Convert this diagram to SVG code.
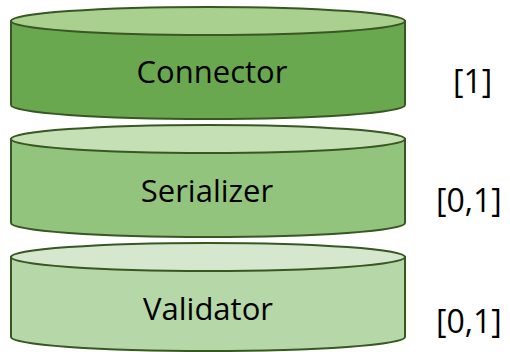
<svg xmlns="http://www.w3.org/2000/svg" width="510" height="352" viewBox="0 0 510 352">
  <style>
    .edge { stroke: #385723; stroke-width: 2; }
    .name { font-family: "Open Sans", "Liberation Sans", sans-serif; font-size: 31px; fill: #000; text-anchor: middle; }
    .mult { font-family: "Open Sans", "Liberation Sans", sans-serif; font-size: 32px; fill: #000; }
  </style>
  <rect width="510" height="352" fill="#ffffff"/>

  <!-- stacked cylinders, top to bottom -->
  <g id="connector">
    <path class="edge" d="M11,21 L11,105 A197,14 0 0,0 405,105 L405,21 Z" fill="#6AA84F"/>
    <ellipse class="edge" cx="208" cy="21" rx="197" ry="14" fill="#A9D08E"/>
    <text class="name" x="212" y="83">Connector</text>
  </g>

  <g id="serializer">
    <path class="edge" d="M11,139 L11,223 A197,14 0 0,0 405,223 L405,139 Z" fill="#93C47D"/>
    <ellipse class="edge" cx="208" cy="139" rx="197" ry="14" fill="#C5E0B4"/>
    <text class="name" x="207" y="202">Serializer</text>
  </g>

  <g id="validator">
    <path class="edge" d="M11,257 L11,337 A197,14 0 0,0 405,337 L405,257 Z" fill="#B6D7A8"/>
    <ellipse class="edge" cx="208" cy="257" rx="197" ry="14" fill="#D5E8CD"/>
    <text class="name" x="208" y="320">Validator</text>
  </g>

  <!-- multiplicity labels -->
  <g id="labels">
    <text class="mult" x="453" y="93">[1]</text>
    <text class="mult" x="436" y="212">[0,1]</text>
    <text class="mult" x="436" y="333">[0,1]</text>
  </g>
</svg>
